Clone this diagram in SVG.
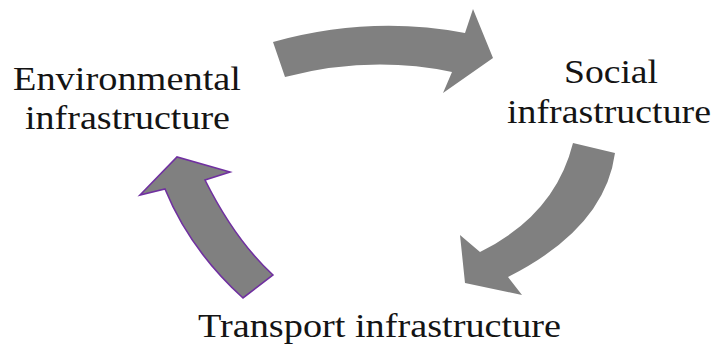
<svg xmlns="http://www.w3.org/2000/svg" width="714" height="345" viewBox="0 0 714 345">
<style>
.arrow{fill:#808080;}
.purple{stroke:#7030A0;stroke-width:1.6;stroke-linejoin:miter;}
</style>
<rect width="714" height="345" fill="#ffffff"/>
<g id="connectors">
<path id="arrow-env-social" class="arrow" d="M273,42 Q370,15 465,33 L473,9 L493,58 L443,93 L452,72 Q370,55 285,77 Z"/>
<path id="arrow-social-transport" class="arrow" d="M573,143 Q555,215 480,252 L460,235 L465,283 L522,295 L508,277 Q605,228 615,153 Z"/>
<path id="arrow-transport-env" class="arrow purple" d="M243,298 Q190,250 165,189 L140,195 L177,157 L230,172 L205,180 Q235,240 273,275 Z"/>
</g>
<g id="node-environmental">
<text font-family="Liberation Serif, serif" font-size="33" fill="#141414" x="13" y="90" textLength="228" lengthAdjust="spacingAndGlyphs">Environmental</text>
<text font-family="Liberation Serif, serif" font-size="33" fill="#141414" x="25" y="129" textLength="205" lengthAdjust="spacingAndGlyphs">infrastructure</text>
</g>
<g id="node-social">
<text font-family="Liberation Serif, serif" font-size="33" fill="#141414" x="564" y="83" textLength="94" lengthAdjust="spacingAndGlyphs">Social</text>
<text font-family="Liberation Serif, serif" font-size="33" fill="#141414" x="507" y="123" textLength="204" lengthAdjust="spacingAndGlyphs">infrastructure</text>
</g>
<g id="node-transport">
<text font-family="Liberation Serif, serif" font-size="33" fill="#141414" x="198" y="337" textLength="363" lengthAdjust="spacingAndGlyphs">Transport infrastructure</text>
</g>
</svg>
